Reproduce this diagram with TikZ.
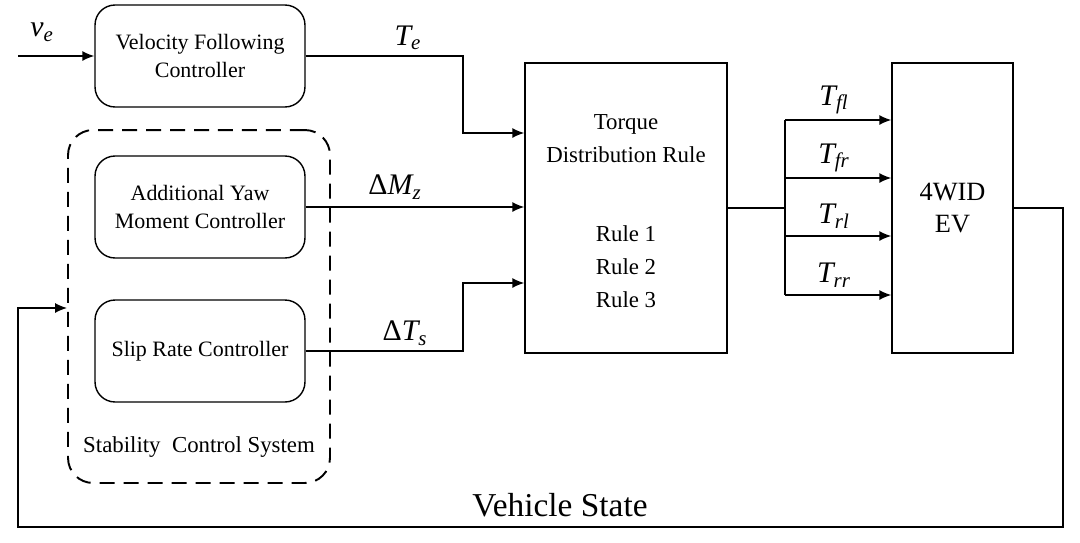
\documentclass[tikz,border=0pt]{standalone}
\usepackage{fontspec}
\setmainfont{Liberation Serif}
\usetikzlibrary{positioning}
\usetikzlibrary{arrows.meta}

\begin{document}
\begin{tikzpicture}
    [
    x=0.02cm, y=-0.02cm,
    line width=0.8pt,
    >={Latex[length=0.24cm,width=0.2cm]},
    ctrl/.style={draw, rounded corners=0.4cm, minimum width=4.2cm, minimum height=2.04cm, align=center, font=\fontsize{12.5}{15.5}\selectfont},
    tall/.style={draw, minimum height=5.8cm},
    txt/.style={align=center, font=\fontsize{13}{18.8}\selectfont},
    sig/.style={font=\fontsize{17}{20}\selectfont\itshape},
    ]
    \useasboundingbox (0,0) rectangle (1080,542);

    % controllers
    \node (vfc) at (200,56) [ctrl] {Velocity Following\\Controller};
    \node (scs) at (199,306.5) [draw, dashed, dash pattern=on 0.3cm off 0.18cm, line width=1.1pt, rounded corners=0.5cm, minimum width=5.24cm, minimum height=7.06cm] {};
    \node (aym) at (200,207) [ctrl] {Additional Yaw\\Moment Controller};
    \node (src) at (200,351) [ctrl] {Slip Rate Controller};
    \node (scslabel) at (199,447) [txt] {Stability~~Control System};

    % torque distribution and vehicle
    \node (tdr) at (626,208) [tall, minimum width=4.04cm] {};
    \node (tdrtitle) at (626,139) [txt] {Torque\\Distribution Rule};
    \node (tdrrules) at (626,267) [txt] {Rule 1\\Rule 2\\Rule 3};
    \node (ev) at (952.5,208) [tall, minimum width=2.42cm, font=\fontsize{15}{18.5}\selectfont, align=center] {4WID\\EV};

    % inputs of the distribution block
    \coordinate (in) at (18,56);
    \coordinate (te) at (463,133);
    \coordinate (ts) at (463,283);
    \draw [->] (in) -- (vfc);
    \draw [->] (vfc) -| (te) -- (te -| tdr.west);
    \draw [->] (aym) -- (aym -| tdr.west);
    \draw [->] (src) -| (ts) -- (ts -| tdr.west);
    \node (velabel) at (42,32) [sig] {v\textsubscript{e}};
    \node (telabel) at (408,38) [sig] {T\textsubscript{e}};
    \node (mzlabel) at (395,187) [sig] {{\upshape Δ}M\textsubscript{z}};
    \node (tslabel) at (405,333) [sig] {{\upshape Δ}T\textsubscript{s}};

    % wheel torques
    \coordinate (split) at (785,208);
    \draw (tdr) -- (split);
    \foreach \y/\w in {120/fl,178/fr,236/rl,295/rr}
    {
      \coordinate (b\w) at (785,\y);
      \draw [->] (b\w) -- (b\w -| ev.west);
      \node (t\w) at (834,\y-20) [sig] {T\textsubscript{\w}};
    }
    \draw (bfl) -- (brr);

    % feedback
    \coordinate (fb1) at (1063,527);
    \coordinate (fb2) at (18,527);
    \coordinate (fb3) at (18,308);
    \draw [->] (ev) -| (fb1) -- (fb2) -- (fb3) -- (fb3 -| scs.west);
    \node (state) at (560,505) [font=\fontsize{19}{22}\selectfont] {Vehicle State};
  \end{tikzpicture}
\end{document}
